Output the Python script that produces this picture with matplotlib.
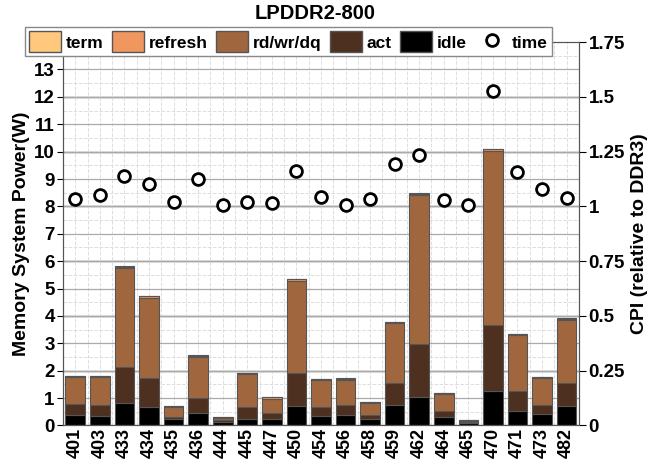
import numpy as np
import matplotlib
matplotlib.use("Agg")
import matplotlib.pyplot as plt
from matplotlib.patches import Patch

plt.rcParams['font.family'] = ['Liberation Sans', 'DejaVu Sans']
plt.rcParams['font.weight'] = 'bold'

benchmarks = ["401", "403", "433", "434", "435", "436", "444", "445", "447", "450", "454",
              "456", "458", "459", "462", "464", "465", "470", "471", "473", "482"]
idle = [0.38, 0.36, 0.81, 0.69, 0.23, 0.46, 0.14, 0.23, 0.25, 0.71, 0.35,
        0.37, 0.24, 0.74, 1.02, 0.29, 0.10, 1.27, 0.52, 0.40, 0.71]
act = [0.40, 0.38, 1.32, 1.06, 0.09, 0.54, 0.04, 0.44, 0.22, 1.21, 0.32,
       0.38, 0.13, 0.81, 1.97, 0.24, 0.03, 2.40, 0.72, 0.35, 0.83]
rdwr = [0.98, 1.02, 3.62, 2.91, 0.35, 1.50, 0.08, 1.20, 0.51, 3.37, 0.98,
        0.92, 0.44, 2.18, 5.42, 0.60, 0.03, 6.37, 2.05, 0.97, 2.31]
refresh = [0.05, 0.05, 0.05, 0.05, 0.04, 0.05, 0.04, 0.04, 0.04, 0.05, 0.05,
           0.04, 0.05, 0.05, 0.06, 0.05, 0.03, 0.06, 0.05, 0.04, 0.05]
term = [0.01] * 21
time = [1.036, 1.05, 1.138, 1.10, 1.02, 1.123, 1.006, 1.02, 1.015, 1.162, 1.042,
        1.007, 1.033, 1.193, 1.234, 1.029, 1.005, 1.526, 1.158, 1.08, 1.039]

colors = {"term": "#FFC87C", "refresh": "#F0965F", "rd/wr/dq": "#A0673F",
          "act": "#4E3020", "idle": "#000000"}

fig = plt.figure(figsize=(6.53, 4.68), dpi=100)
ax = fig.add_axes([0.0965, 0.091, 0.79, 0.819])
ax2 = ax.twinx()

x = np.arange(1, len(benchmarks) + 1)
w = 0.8
bottom = np.zeros(len(x))
for name, vals in [("idle", idle), ("act", act), ("rd/wr/dq", rdwr), ("refresh", refresh), ("term", term)]:
    ax.bar(x, vals, w, bottom=bottom, color=colors[name], edgecolor="#555555",
           linewidth=0.8, zorder=2, label=name)
    bottom = bottom + np.array(vals)

ln, = ax2.plot(x, time, 'o', markersize=8.5, markerfacecolor='white', markeredgecolor='black',
               markeredgewidth=2, linestyle='none', label='time', zorder=3)

ax.set_xlim(0.5, 21.5)
ax.set_ylim(0, 14)
ax.set_yticks(np.arange(0, 14, 1))
ax.set_yticks(np.arange(0, 14, 0.5), minor=True)
ax.set_xticks(x)
ax.set_xticks(np.arange(0.5, 21.6, 0.5), minor=True)
ax.set_xticklabels(benchmarks, rotation=90, fontsize=13, fontweight='bold')
ax.tick_params(axis='y', labelsize=13.5, length=4, pad=2)
ax.tick_params(axis='x', length=0, pad=2)
ax.tick_params(which='minor', length=0)
ax.set_axisbelow(True)
ax.grid(True, which='major', axis='y', color='#aaaaaa', linewidth=0.9, zorder=0)
ax.grid(True, which='minor', axis='both', color='#dddddd', linestyle='--', linewidth=0.7, zorder=0)
ax.grid(True, which='major', axis='x', color='#dddddd', linestyle='--', linewidth=0.7, zorder=0)

cpi_ticks = [0, 0.25, 0.5, 0.75, 1, 1.25, 1.5, 1.75]
for t in cpi_ticks[1:-1]:
    ax.axhline(t * 8, color='#d4d4d4', linewidth=1.8, zorder=0.5)

ax2.set_ylim(0, 1.75)
ax2.set_yticks(cpi_ticks)
ax2.set_yticklabels(["0", "0.25", "0.5", "0.75", "1", "1.25", "1.5", "1.75"])
ax2.tick_params(axis='y', labelsize=13.5, length=5, pad=2)

for a in (ax, ax2):
    for s in a.spines.values():
        s.set_color('#555555')

ax.set_ylabel("Memory System Power(W)", fontsize=14, fontweight='bold', labelpad=3)
ax2.set_ylabel("CPI (relative to DDR3)", fontsize=14, fontweight='bold', labelpad=4)
fig.text(0.482, 0.972, "LPDDR2-800", ha='center', va='center', fontsize=14.5, fontweight='bold')

leg_handles = [Patch(facecolor=colors[n], edgecolor='#555555', label=n)
               for n in ["term", "refresh", "rd/wr/dq", "act", "idle"]]
leg_handles.append(ln)
leg = fig.legend(handles=leg_handles, loc='upper left', bbox_to_anchor=(0.038, 0.942),
                 ncol=6, fontsize=12.5, frameon=True, fancybox=False, framealpha=1,
                 edgecolor='#888888', handlelength=1.85, handleheight=1.45,
                 columnspacing=0.5, handletextpad=0.25, borderpad=0.25, borderaxespad=0)
leg.get_frame().set_linewidth(1.0)
leg.set_zorder(10)

fig.savefig("out.png", dpi=100)
